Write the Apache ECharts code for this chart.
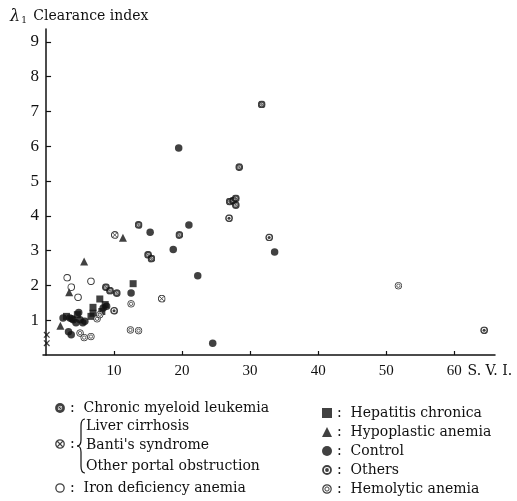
<!DOCTYPE html>
<html>
<head>
<meta charset="utf-8">
<script src="https://cdn.jsdelivr.net/npm/echarts@6/dist/echarts.min.js"></script>
<style>
html, body { margin: 0; padding: 0; background: #fff; }
#chart { width: 517px; height: 501px; }
</style>
</head>
<body>
<div id="chart"></div>
<script>
// tick labels
const xTicks = [10, 20, 30, 40, 50, 60];
const yTicks = [1, 2, 3, 4, 5, 6, 7, 8, 9];

// [S.V.I., clearance index]
const cmlPoints = [[31.7, 7.2], [28.4, 5.4], [27.0, 4.41], [27.5, 4.44], [27.9, 4.5], [27.9, 4.31],
  [13.6, 3.74], [19.6, 3.45], [15.0, 2.88], [15.5, 2.77], [8.8, 1.95], [9.4, 1.85], [10.4, 1.78]];
const liverPoints = [[10.1, 3.45], [17.0, 1.62]];
const ironPoints = [[3.1, 2.22], [3.7, 1.95], [4.7, 1.66], [6.6, 2.12]];
const hepatitisPoints = [[12.8, 2.05], [7.9, 1.61], [6.9, 1.37], [6.6, 1.11], [8.2, 1.25], [8.7, 1.45],
  [4.6, 1.16], [3.0, 1.11], [6.9, 1.2]];
const hypoplasticPoints = [[11.3, 3.37], [5.6, 2.69], [3.4, 1.8], [2.1, 0.84]];
const controlPoints = [[19.5, 5.95], [15.3, 3.53], [18.7, 3.03], [21.0, 3.74], [22.3, 2.28], [24.5, 0.34],
  [12.5, 1.78], [33.6, 2.96], [2.5, 1.06], [3.5, 1.06], [4.0, 1.01], [4.8, 1.22], [5.0, 1.01],
  [5.4, 0.93], [4.4, 0.93], [3.8, 1.04], [5.7, 0.97], [3.3, 0.67], [3.7, 0.58], [8.4, 1.35], [8.9, 1.4]];
const othersPoints = [[26.9, 3.93], [32.8, 3.38], [10.0, 1.27], [64.4, 0.71]];
const hemolyticPoints = [[12.5, 1.47], [12.4, 0.72], [13.6, 0.7], [5.0, 0.63], [5.6, 0.5], [6.6, 0.53],
  [7.5, 1.04], [7.9, 1.16], [51.8, 1.99]];
const crossPoints = [[0.1, 0.58], [0.1, 0.34]];

const ink = "#111";
const serif = "DejaVu Serif";

function svgSymbol(body) {
  const svg = '<svg xmlns="http://www.w3.org/2000/svg" width="40" height="40" viewBox="0 0 20 20">' + body + "</svg>";
  return "image://data:image/svg+xml;charset=utf-8," + encodeURIComponent(svg);
}
const symCml = svgSymbol('<circle cx="10" cy="10" r="9.8" fill="' + ink + '"/><circle cx="10" cy="10" r="3.6" fill="none" stroke="#fff" stroke-width="1.3"/><line x1="6" y1="14" x2="14" y2="6" stroke="#fff" stroke-width="1.2"/>');
const symLiver = svgSymbol('<circle cx="10" cy="10" r="8.4" fill="#fff" stroke="' + ink + '" stroke-width="2.6"/><line x1="4.5" y1="4.5" x2="15.5" y2="15.5" stroke="' + ink + '" stroke-width="2.2"/><line x1="15.5" y1="4.5" x2="4.5" y2="15.5" stroke="' + ink + '" stroke-width="2.2"/>');
const symIron = svgSymbol('<circle cx="10" cy="10" r="8.3" fill="#fff" stroke="' + ink + '" stroke-width="2.6"/>');
const symOthers = svgSymbol('<circle cx="10" cy="10" r="8" fill="#fff" stroke="' + ink + '" stroke-width="3.6"/><circle cx="10" cy="10" r="3.8" fill="' + ink + '"/>');
const symHemolytic = svgSymbol('<circle cx="10" cy="10" r="8.4" fill="#fff" stroke="' + ink + '" stroke-width="2.4"/><circle cx="10" cy="10" r="4.2" fill="none" stroke="' + ink + '" stroke-width="2"/>');
const symCross = svgSymbol('<line x1="3" y1="3" x2="17" y2="17" stroke="' + ink + '" stroke-width="3"/><line x1="17" y1="3" x2="3" y2="17" stroke="' + ink + '" stroke-width="3"/>');

const liverName = "Liver cirrhosis / Banti's syndrome / Other portal obstruction";

const chartDom = echarts.init(document.getElementById("chart"), null, { renderer: "canvas" });

const legendText = { fontFamily: serif, fontSize: 14, color: ink };
const braceStyle = { fill: null, stroke: ink, lineWidth: 1.2 };

// curly brace in front of the three grouped diagnoses
function braceParts(x, top, bottom) {
  const mid = (top + bottom) / 2;
  return [
    { type: "bezierCurve", shape: { x1: x + 4, y1: top, cpx1: x + 1, cpy1: top, cpx2: x, cpy2: top + 2, x2: x, y2: top + 7 }, style: braceStyle },
    { type: "line", shape: { x1: x, y1: top + 7, x2: x, y2: mid - 6 }, style: braceStyle },
    { type: "bezierCurve", shape: { x1: x, y1: mid - 6, cpx1: x, cpy1: mid - 2, cpx2: x - 2, cpy2: mid, x2: x - 4, y2: mid }, style: braceStyle },
    { type: "bezierCurve", shape: { x1: x - 4, y1: mid, cpx1: x - 2, cpy1: mid, cpx2: x, cpy2: mid + 2, x2: x, y2: mid + 6 }, style: braceStyle },
    { type: "line", shape: { x1: x, y1: mid + 6, x2: x, y2: bottom - 7 }, style: braceStyle },
    { type: "bezierCurve", shape: { x1: x, y1: bottom - 7, cpx1: x, cpy1: bottom - 2, cpx2: x + 1, cpy2: bottom, x2: x + 4, y2: bottom }, style: braceStyle },
  ];
}

const option = {
  animation: false,
  backgroundColor: "#fff",
  title: {
    left: 5,
    top: 3,
    text: "{l|λ}{s|1} Clearance index",
    textStyle: {
      fontFamily: serif,
      fontSize: 14,
      fontWeight: "normal",
      color: ink,
      rich: {
        l: { fontFamily: serif, fontSize: 16, fontStyle: "italic", color: ink },
        s: { fontFamily: serif, fontSize: 9, color: ink, padding: [8, 2, 0, 1] },
      },
    },
  },
  grid: { left: 43, right: 22, top: 29, bottom: 146 },
  xAxis: {
    type: "value",
    min: -0.45,
    max: 66,
    name: "S. V. I.",
    nameLocation: "end",
    nameGap: -28,
    nameTextStyle: {
      fontFamily: serif, fontSize: 14, color: ink,
      align: "left", verticalAlign: "top", padding: [9, 0, 0, 0],
    },
    splitLine: { show: false },
    axisLine: { lineStyle: { color: ink, width: 1.5 } },
    axisTick: { inside: true, length: 4, customValues: xTicks, lineStyle: { color: ink, width: 1.2 } },
    axisLabel: { customValues: xTicks, margin: 9, fontFamily: "Liberation Serif", fontSize: 15, color: ink },
  },
  yAxis: {
    type: "value",
    min: 0,
    max: 9.37,
    splitLine: { show: false },
    axisLine: { show: true, lineStyle: { color: ink, width: 1.5 } },
    axisTick: { show: true, inside: true, length: 5, customValues: yTicks, lineStyle: { color: ink, width: 1.2 } },
    axisLabel: { customValues: yTicks, margin: 4, fontFamily: "Liberation Serif", fontSize: 17, color: ink },
  },
  legend: [
    {
      data: ["Chronic myeloid leukemia"],
      left: 50, top: 396, orient: "vertical",
      itemWidth: 10, itemHeight: 10, selectedMode: false,
      formatter: ":  {name}", textStyle: legendText,
    },
    {
      data: [liverName],
      left: 50, top: 432, orient: "vertical",
      itemWidth: 10, itemHeight: 10, selectedMode: false,
      formatter: ":", textStyle: legendText,
    },
    {
      data: ["Iron deficiency anemia"],
      left: 50, top: 476, orient: "vertical",
      itemWidth: 10, itemHeight: 10, selectedMode: false,
      formatter: ":  {name}", textStyle: legendText,
    },
    {
      data: ["Hepatitis chronica", "Hypoplastic anemia", "Control", "Others", "Hemolytic anemia"],
      left: 317, top: 401, orient: "vertical", itemGap: 5,
      itemWidth: 10, itemHeight: 10, selectedMode: false,
      formatter: ":  {name}", textStyle: legendText,
    },
  ],
  graphic: braceParts(81, 419, 473).concat([
    { type: "text", left: 86, top: 419, style: { text: "Liver cirrhosis", font: "14px " + serif, fill: ink } },
    { type: "text", left: 86, top: 438, style: { text: "Banti's syndrome", font: "14px " + serif, fill: ink } },
    { type: "text", left: 86, top: 459, style: { text: "Other portal obstruction", font: "14px " + serif, fill: ink } },
  ]),
  series: [
    { name: "Chronic myeloid leukemia", type: "scatter", data: cmlPoints, symbol: symCml, symbolSize: 8 },
    { name: liverName, type: "scatter", data: liverPoints, symbol: symLiver, symbolSize: 8 },
    { name: "Iron deficiency anemia", type: "scatter", data: ironPoints, symbol: symIron, symbolSize: 8 },
    { name: "Hepatitis chronica", type: "scatter", data: hepatitisPoints, symbol: "rect", symbolSize: 7, itemStyle: { color: ink } },
    { name: "Hypoplastic anemia", type: "scatter", data: hypoplasticPoints, symbol: "triangle", symbolSize: 8, itemStyle: { color: ink } },
    { name: "Control", type: "scatter", data: controlPoints, symbol: "circle", symbolSize: 7.5, itemStyle: { color: ink } },
    { name: "Others", type: "scatter", data: othersPoints, symbol: symOthers, symbolSize: 8 },
    { name: "Hemolytic anemia", type: "scatter", data: hemolyticPoints, symbol: symHemolytic, symbolSize: 8 },
    { name: "cross", type: "scatter", data: crossPoints, symbol: symCross, symbolSize: 8 },
  ],
};
chartDom.setOption(option);
</script>
</body>
</html>
